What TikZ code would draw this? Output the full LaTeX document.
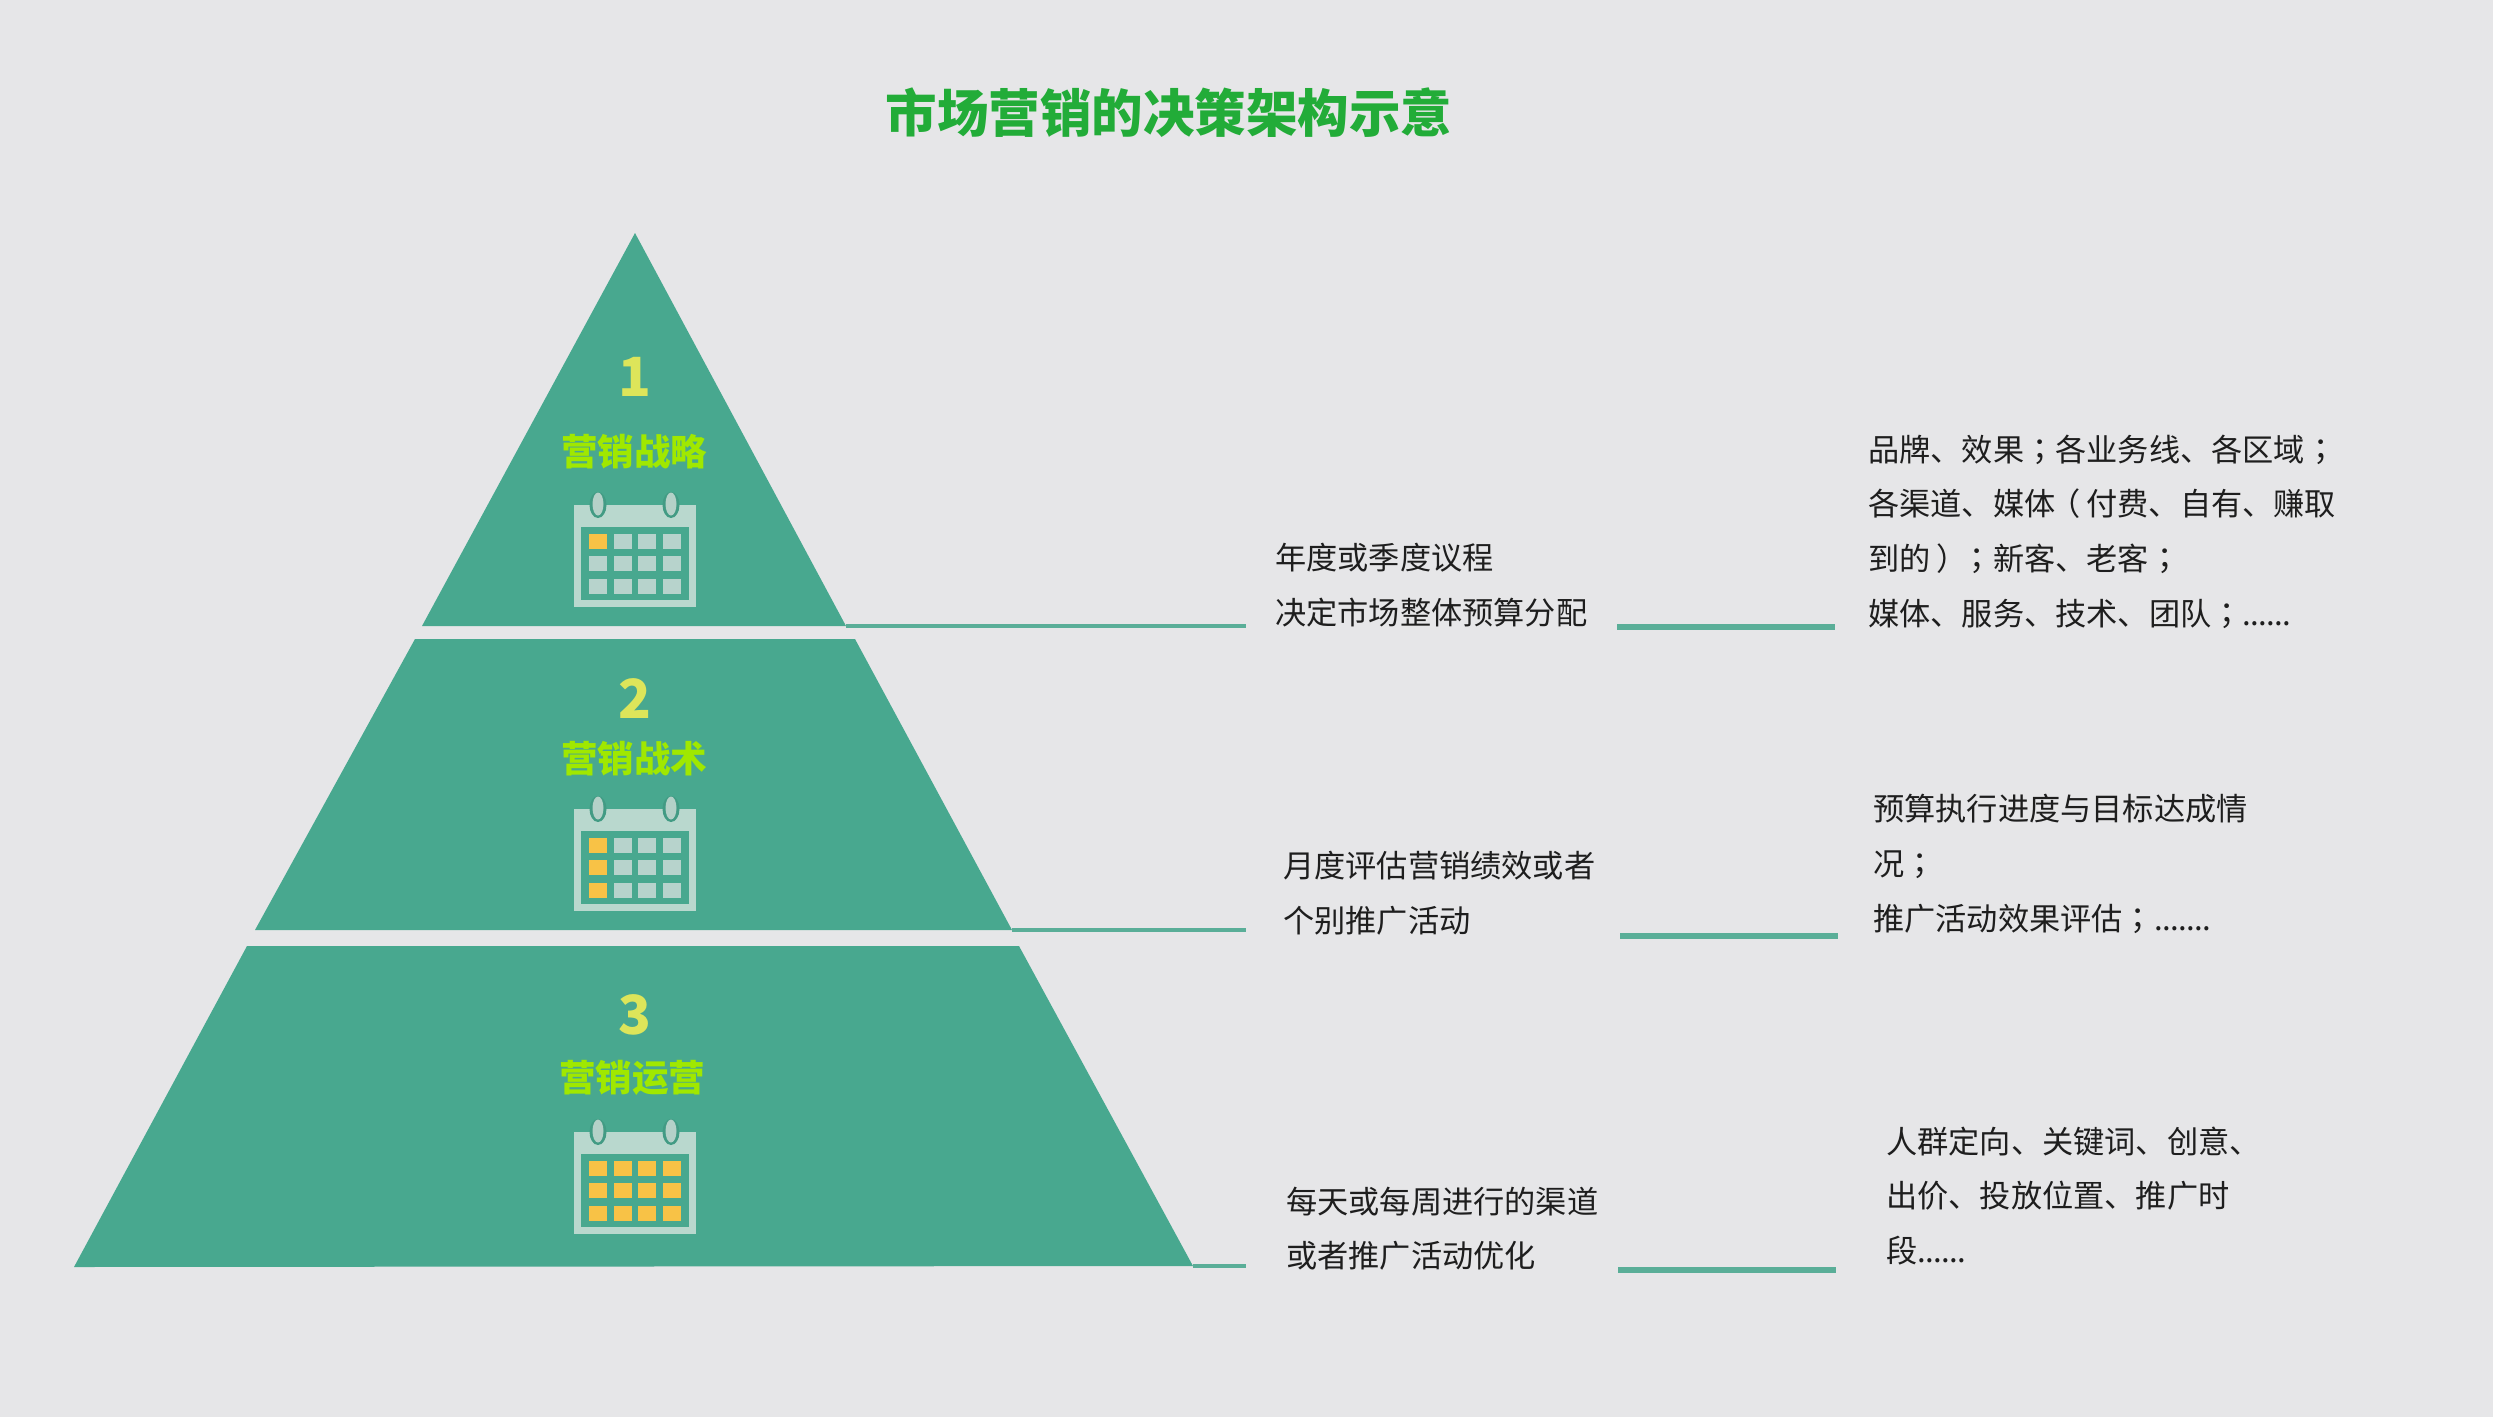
\documentclass[tikz,border=0pt]{standalone}
\usepackage{fontspec}
\setmainfont{Noto Sans CJK SC}
\newfontfamily\tcpunct{Noto Sans CJK TC}
\newcommand{\zs}[1]{{\tcpunct #1}}
\newcommand{\lpar}{\kern-.2em（\kern.2em}
\newcommand{\rpar}{\kern.2em）\kern-.2em}
\newcommand{\tdots}[1]{{\addfontfeature{LetterSpace=-2}#1}}
\definecolor{bgc}{HTML}{E6E6E8}
\definecolor{pyr}{HTML}{48A88F}
\definecolor{frm}{HTML}{B9D8CE}
\definecolor{cellc}{HTML}{B7D3CC}
\definecolor{ylw}{HTML}{F8C246}
\definecolor{ttl}{HTML}{22AC38}
\definecolor{lbl}{HTML}{A0E800}
\definecolor{numc}{HTML}{DDE55A}
\definecolor{lnc}{HTML}{5AAE98}
\definecolor{txt}{HTML}{1E1E1E}
\tikzset{
  x=1pt,y=-1pt,
  tier/.style={fill=pyr,draw=none},
  bodytxt/.style={inner sep=0pt,anchor=west,align=left,text=txt,font=\fontsize{31.2}{54.6}\selectfont},
  tiernum/.style={inner sep=0pt,text=numc,font=\fontsize{54}{60}\selectfont\bfseries},
  tierlbl/.style={inner sep=0pt,text=lbl,font=\fontsize{36.5}{40}\selectfont\bfseries},
  leader/.style={draw=lnc,line width=4pt},
  seg/.style={draw=lnc,line width=5.5pt},
}
\newcommand{\calicon}[2]{% y offset, number of yellow columns/cells mode
  \begin{scope}[yshift=-#1pt]
    \fill[frm] (574,505) rectangle (696,607);
    \fill[pyr] (581,527) rectangle (689,600);
    \foreach \rx in {598,671}{
      \fill[pyr!92!black] (\rx,505) ellipse [x radius=8.5,y radius=13];
      \fill[frm!92!gray] (\rx,504) ellipse [x radius=5.5,y radius=11.5];
    }
    \foreach \cx [count=\ci] in {598,622.5,647,672}{
      \foreach \cy [count=\ri] in {541,563,586}{
        \pgfmathtruncatemacro{\isy}{(#2==3)||(#2==2&&\ci==1)||(#2==1&&\ci==1&&\ri==1)}
        \ifnum\isy=1 \def\cc{ylw}\else\def\cc{cellc}\fi
        \fill[\cc] (\cx-9,\cy-7.5) rectangle (\cx+9,\cy+7.5);
      }
    }
  \end{scope}
}
\begin{document}
\begin{tikzpicture}
\useasboundingbox (0,0) rectangle (2493,1417);
\fill[bgc] (0,0) rectangle (2493,1417);
\node[inner sep=0pt,text=ttl,font=\fontsize{51.5}{56}\selectfont\bfseries] (title) at (1169,113) {市场营销的决策架构示意};
% tiers
\coordinate (t1r) at (846,626);
\coordinate (t2r) at (1012,930);
\coordinate (t3r) at (1193,1266);
\fill[tier] (635,233) -- (t1r) -- (422,626) -- cycle;
\fill[tier] (415,639) -- (855,639) -- (t2r) -- (255,930) -- cycle;
\fill[tier] (247,946) -- (1019,946) -- (t3r) -- (74,1267) -- cycle;
\calicon{0}{1}
\calicon{304}{2}
\calicon{627}{3}
\node[tiernum] (n1) at (635,377) {1};
\node[tierlbl] (l1) at (634,452) {营销战略};
\node[tiernum] (n2) at (635,699) {2};
\node[tierlbl] (l2) at (634,759) {营销战术};
\node[tiernum] (n3) at (635,1015) {3};
\node[tierlbl] (l3) at (632,1078) {营销运营};
% leaders
\coordinate (a1) at (1246,626);
\coordinate (a2) at (1246,930);
\coordinate (a3) at (1246,1266);
\draw[leader] (t1r) -- (a1);
\draw[leader] (t2r) -- (a2);
\draw[leader] (t3r) -- (a3);
\coordinate (b1) at (1617,627); \coordinate (c1) at (1835,627);
\coordinate (b2) at (1620,936); \coordinate (c2) at (1838,936);
\coordinate (b3) at (1618,1270); \coordinate (c3) at (1836,1270);
\draw[seg] (b1) -- (c1);
\draw[seg] (b2) -- (c2);
\draw[seg] (b3) -- (c3);
% texts
\node[bodytxt] (m1) at (1275,585) {年度或季度议程\\决定市场整体预算分配};
\node[bodytxt] (m2) at (1283,893) {月度评估营销绩效或者\\个别推广活动};
\node[bodytxt] (m3) at (1286,1228.5) {每天或每周进行的渠道\\或者推广活动优化};
\node[bodytxt] (r1) at (1868,531.5) {品牌、效果\zs{；}各业务线、各区域\zs{；}\\各渠道、媒体\lpar 付费、自有、赚取\\到的\rpar\zs{；}新客、老客\zs{；}\\媒体、服务、技术、团队\zs{；}\tdots{......}};
\node[bodytxt] (r2) at (1873,864) {预算执行进度与目标达成情\\况\zs{；}\\推广活动效果评估\zs{；}\tdots{.......}};
\node[bodytxt] (r3) at (1886,1196) {人群定向、关键词、创意、\\出价、投放位置、推广时\\段\tdots{......}};
\end{tikzpicture}
\end{document}
